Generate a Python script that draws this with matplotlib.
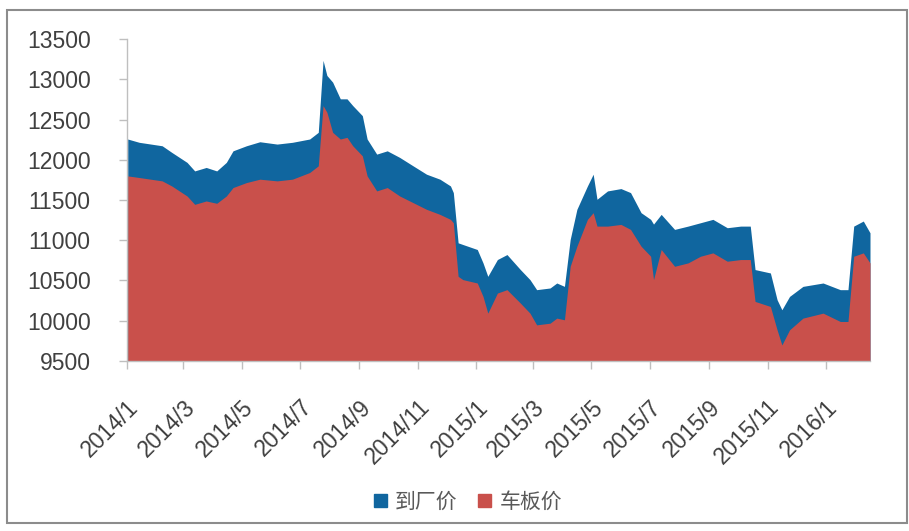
import matplotlib
matplotlib.use("Agg")
import matplotlib.pyplot as plt
from matplotlib.patches import Patch, Rectangle
import pandas as pd

# price data (yuan/ton)
dates = [
    "2014-01-02", "2014-01-14", "2014-02-07", "2014-02-17", "2014-03-05", "2014-03-13",
    "2014-03-25", "2014-04-05", "2014-04-15", "2014-04-22", "2014-05-06", "2014-05-20",
    "2014-06-07", "2014-06-23", "2014-07-11", "2014-07-20", "2014-07-25", "2014-07-29",
    "2014-08-04", "2014-08-12", "2014-08-19", "2014-08-25", "2014-09-04", "2014-09-09",
    "2014-09-19", "2014-09-30", "2014-10-13", "2014-10-27", "2014-11-10", "2014-11-24",
    "2014-12-05", "2014-12-08", "2014-12-13", "2014-12-18", "2015-01-02", "2015-01-08",
    "2015-01-13", "2015-01-23", "2015-02-02", "2015-02-16", "2015-02-26", "2015-03-05",
    "2015-03-19", "2015-03-26", "2015-04-03", "2015-04-09", "2015-04-16", "2015-04-27",
    "2015-05-03", "2015-05-07", "2015-05-18", "2015-06-01", "2015-06-11", "2015-06-22",
    "2015-07-02", "2015-07-05", "2015-07-13", "2015-07-27", "2015-08-10", "2015-08-23",
    "2015-09-05", "2015-09-20", "2015-10-04", "2015-10-14", "2015-10-19", "2015-11-04",
    "2015-11-11", "2015-11-16", "2015-11-24", "2015-12-08", "2015-12-29", "2016-01-16",
    "2016-01-24", "2016-01-30", "2016-02-09", "2016-02-16",
]
factory_price = [  # 到厂价
    12259, 12218, 12175, 12093, 11968, 11862,
    11905, 11862, 11968, 12112, 12175, 12225,
    12196, 12218, 12259, 12342, 13238, 13050,
    12967, 12759, 12759, 12675, 12550, 12259,
    12071, 12112, 12030, 11925, 11821, 11759,
    11675, 11592, 10967, 10946, 10884, 10717,
    10550, 10759, 10821, 10634, 10509, 10384,
    10405, 10467, 10425, 11009, 11384, 11675,
    11821, 11509, 11613, 11642, 11592, 11342,
    11259, 11200, 11321, 11134, 11175, 11217,
    11259, 11155, 11175, 11175, 10634, 10592,
    10259, 10134, 10300, 10425, 10467, 10384,
    10384, 11175, 11238, 11092,
]
wagon_price = [  # 车板价
    11800, 11780, 11738, 11675, 11550, 11446,
    11488, 11459, 11550, 11655, 11717, 11759,
    11738, 11759, 11842, 11925, 12675, 12592,
    12342, 12259, 12280, 12175, 12050, 11800,
    11613, 11655, 11550, 11467, 11384, 11321,
    11259, 11217, 10550, 10509, 10467, 10300,
    10092, 10342, 10384, 10217, 10092, 9946,
    9967, 10030, 10009, 10675, 10925, 11259,
    11342, 11175, 11175, 11196, 11134, 10925,
    10800, 10509, 10884, 10675, 10717, 10800,
    10842, 10738, 10759, 10759, 10238, 10175,
    9884, 9696, 9884, 10030, 10092, 9988,
    9988, 10800, 10842, 10717,
]
series_names = ["到厂价", "车板价"]
y_ticks = [9500, 10000, 10500, 11000, 11500, 12000, 12500, 13000, 13500]

blue = "#10669f"
red = "#c9504b"
axis_grey = "#bfbfbf"
text_grey = "#404040"

x = pd.to_datetime(dates)

fig = plt.figure(figsize=(9.09, 5.31), dpi=100)
ax = fig.add_axes([126.7 / 909, 1 - 360.7 / 531, (870 - 126.7) / 909, (360.7 - 39.3) / 531])

ax.fill_between(x, 9500, factory_price, color=blue, linewidth=0)
ax.fill_between(x, 9500, wagon_price, color=red, linewidth=0)

ax.set_ylim(9500, 13500)
ax.set_xlim(pd.Timestamp("2014-01-01"), x[-1])
ax.set_yticks(y_ticks)
ax.set_yticklabels([str(v) for v in y_ticks], fontfamily="Liberation Sans",
                   fontsize=16.5, color=text_grey)

tick_dates = pd.date_range("2014-01-01", "2016-01-01", freq="2MS")
ax.set_xticks(tick_dates)
ax.set_xticklabels([f"{d.year}/{d.month}" for d in tick_dates], fontfamily="Liberation Sans",
                   fontsize=16.5, color=text_grey, rotation=45, ha="right", va="top",
                   rotation_mode="anchor")

ax.tick_params(axis="x", length=6, width=1, color=axis_grey, pad=19)
ax.tick_params(axis="y", length=6, width=1, color=axis_grey, pad=20)
for side in ["top", "right"]:
    ax.spines[side].set_visible(False)
for side in ["left", "bottom"]:
    ax.spines[side].set_color(axis_grey)
    ax.spines[side].set_linewidth(1)

handles = [Patch(facecolor=blue, edgecolor=blue), Patch(facecolor=red, edgecolor=red)]
fig.legend(handles, series_names, loc="center", bbox_to_anchor=(468 / 909, 1 - 502 / 531),
           ncol=2, frameon=False, handlelength=0.6, handleheight=0.6, handletextpad=0.4,
           columnspacing=1.0, prop={"family": "Noto Sans CJK SC", "size": 15},
           labelcolor="#595959")

# outer chart frame
fig.add_artist(Rectangle((7 / 909, 1 - 523 / 531), 900 / 909, 513 / 531,
                         transform=fig.transFigure, fill=False, edgecolor="#8c8c8c",
                         linewidth=1.5))

fig.savefig("out.png", dpi=100)
